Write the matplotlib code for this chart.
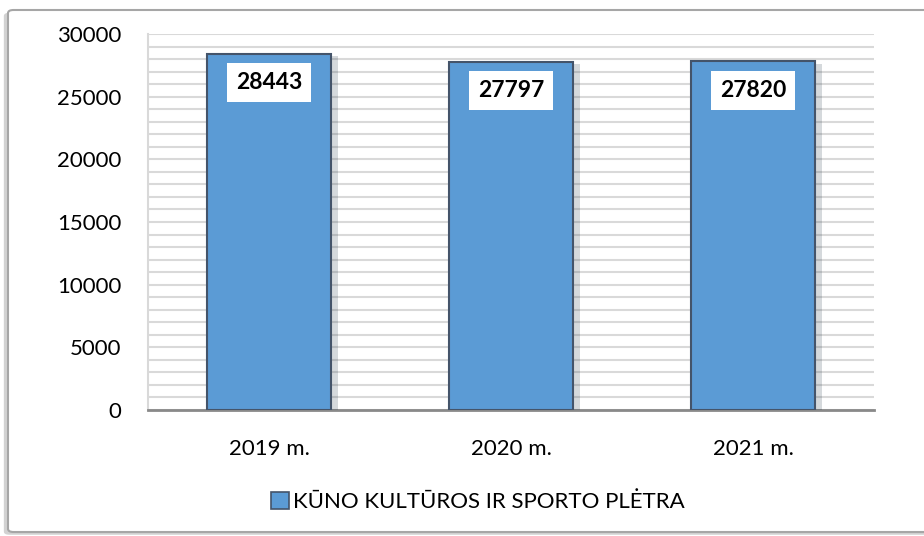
import matplotlib.pyplot as plt
from matplotlib.patches import FancyBboxPatch, Patch
from matplotlib.ticker import MultipleLocator
import matplotlib.patheffects as pe

years = ["2019 m.", "2020 m.", "2021 m."]
values = [28443, 27797, 27820]
series_name = "KŪNO KULTŪROS IR SPORTO PLĖTRA"

plt.rcParams["font.family"] = ["Lato", "DejaVu Sans"]

fig = plt.figure(figsize=(9.24, 5.36), dpi=100)
ax = fig.add_axes([148 / 924, 1 - 410 / 536, 726 / 924, 376 / 536])

# chart frame with a soft shadow
frame = FancyBboxPatch((8 / 924, 4 / 536), 930 / 924, 522 / 536,
                       boxstyle="round,pad=0,rounding_size=0.006",
                       transform=fig.transFigure, facecolor="white",
                       edgecolor="#a6a6a6", linewidth=1.5, zorder=-10,
                       path_effects=[pe.SimplePatchShadow(offset=(-3, -2), alpha=0.25),
                                     pe.Normal()])
fig.patches.append(frame)

x = range(len(years))
bars = ax.bar(x, values, width=0.51, color="#5b9bd5", edgecolor="#44546a",
              linewidth=1.5, zorder=3)
for b in bars:
    b.set_path_effects([pe.SimplePatchShadow(offset=(5, -2), alpha=0.18), pe.Normal()])

for i, v in enumerate(values):
    ax.annotate(str(v), (i, v), xytext=(0, -29), textcoords="offset pixels",
                ha="center", va="center", fontsize=16.5, fontweight="bold",
                zorder=5,
                bbox=dict(boxstyle="square,pad=0.38", facecolor="white", edgecolor="none"))

ax.set_xlim(-0.5, 2.5)
ax.set_ylim(0, 30000)
ax.yaxis.set_major_locator(MultipleLocator(5000))
ax.yaxis.set_minor_locator(MultipleLocator(1000))
ax.grid(True, axis="y", which="both", color="#d9d9d9", linewidth=1.5, zorder=0)
ax.set_axisbelow(True)
ax.set_xticks(list(x))
ax.set_xticklabels(years)
ax.tick_params(axis="both", which="both", length=0, labelsize=16)
ax.tick_params(axis="y", pad=19)
ax.tick_params(axis="x", pad=21)

for s in ["top", "right"]:
    ax.spines[s].set_visible(False)
ax.spines["left"].set_color("#d9d9d9")
ax.spines["left"].set_linewidth(1.5)
ax.spines["bottom"].set_color("#898989")
ax.spines["bottom"].set_linewidth(2)

handle = Patch(facecolor="#5b9bd5", edgecolor="#44546a", linewidth=1.2)
fig.legend([handle], [series_name], loc="center", bbox_to_anchor=(478 / 924, 1 - 502 / 536),
           frameon=False, fontsize=16, handlelength=0.8, handleheight=0.8,
           handletextpad=0.2)

fig.savefig("out.png", dpi=100)
